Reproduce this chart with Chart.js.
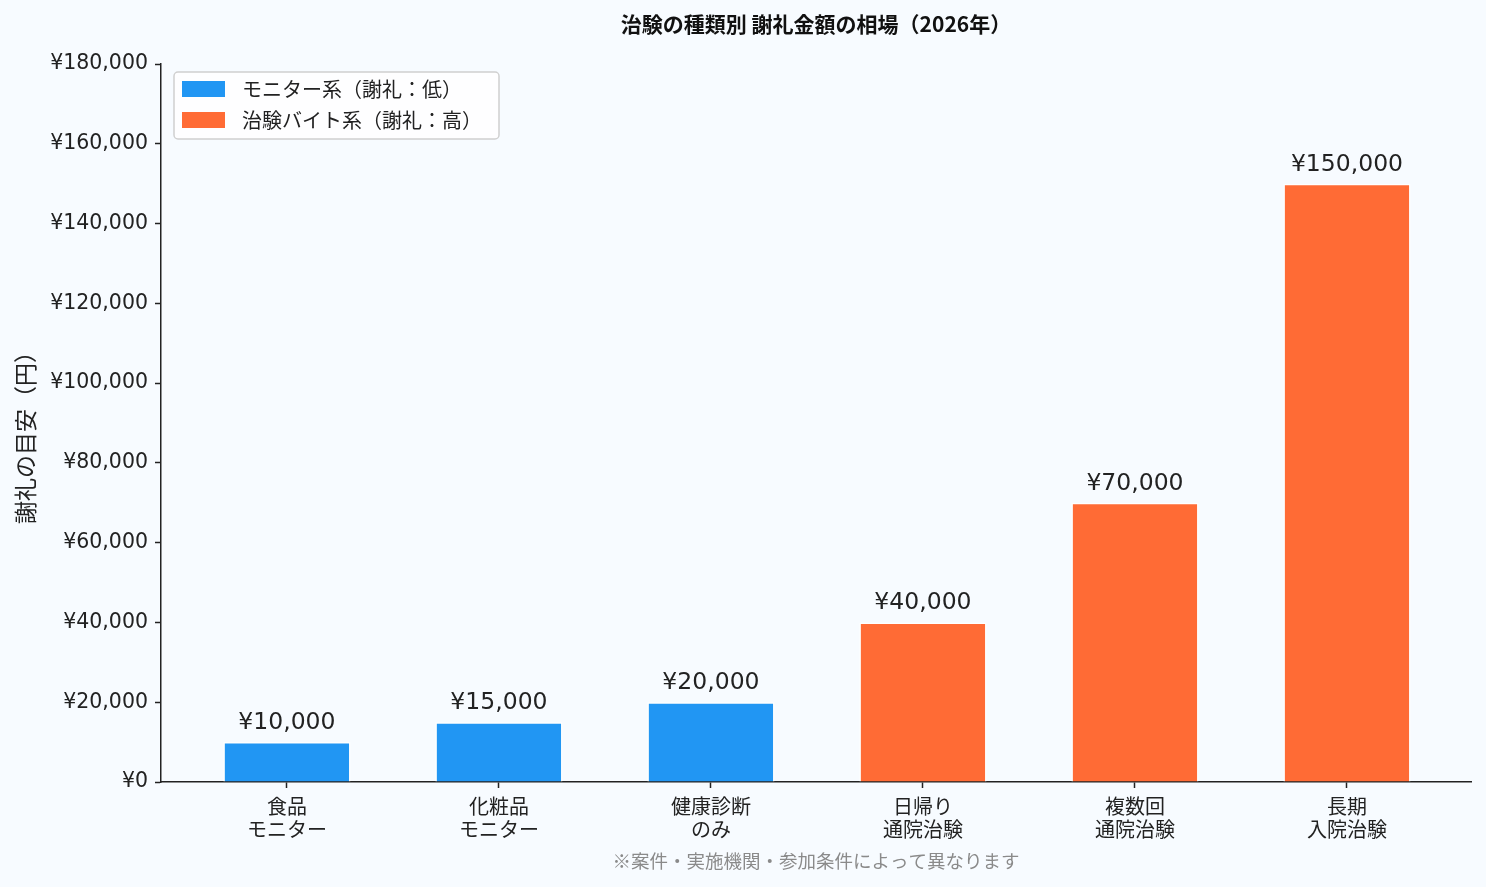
<!DOCTYPE html>
<html lang="ja">
<head>
<meta charset="utf-8">
<script src="https://cdn.jsdelivr.net/npm/chart.js@4.4.1/dist/chart.umd.min.js"></script>
<style>
  html, body { margin: 0; padding: 0; background: #f7fbff; }
  #wrap { width: 1486px; height: 887px; }
</style>
</head>
<body>
<div id="wrap"><canvas id="rewardChart"></canvas></div>
<script>
// data
const categories = [
    ['食品', 'モニター'],
    ['化粧品', 'モニター'],
    ['健康診断', 'のみ'],
    ['日帰り', '通院治験'],
    ['複数回', '通院治験'],
    ['長期', '入院治験']
];
const monitorIdx = [0, 1, 2];
const monitorValues = [10000, 15000, 20000];
const trialIdx = [3, 4, 5];
const trialValues = [40000, 70000, 150000];
const yTicks = [0, 20000, 40000, 60000, 80000, 100000, 120000, 140000, 160000, 180000];

const FONT = '"Noto Sans CJK JP", "Noto Sans", sans-serif';
const NUMFONT = '"DejaVu Sans", "Noto Sans CJK JP", sans-serif';
const yen = v => '¥' + v.toLocaleString('en-US');

// draws title, axis titles, value labels and the in-plot legend
const extras = {
    id: 'extras',
    afterDraw(chart) {
        const { ctx, chartArea: a } = chart;
        ctx.save();
        ctx.fillStyle = '#111';
        ctx.textAlign = 'center';
        ctx.textBaseline = 'middle';
        ctx.font = 'bold 21px ' + FONT;
        ctx.fillText('治験の種類別 謝礼金額の相場（2026年）', (a.left + a.right) / 2, 24);

        // y title
        ctx.save();
        ctx.translate(25, (a.top + a.bottom) / 2 + 9);
        ctx.rotate(-Math.PI / 2);
        ctx.font = '23px ' + FONT;
        ctx.fillStyle = '#222';
        ctx.fillText('謝礼の目安（円）', 0, 0);
        ctx.restore();

        // footnote
        ctx.font = '18.5px ' + FONT;
        ctx.fillStyle = '#8a8a8a';
        ctx.fillText('※案件・実施機関・参加条件によって異なります', (a.left + a.right) / 2, 861);

        // value labels
        ctx.font = '23.5px ' + NUMFONT;
        ctx.fillStyle = '#222';
        ctx.textBaseline = 'alphabetic';
        chart.data.datasets.forEach((ds, di) => {
            chart.getDatasetMeta(di).data.forEach((bar, i) => {
                ctx.fillText(yen(ds.data[i].y), bar.x, bar.y - 13);
            });
        });

        // legend
        const lx = 174, ly = 72, lw = 325, lh = 67;
        ctx.beginPath();
        ctx.roundRect(lx, ly, lw, lh, 4);
        ctx.fillStyle = 'rgba(255,255,255,0.8)';
        ctx.fill();
        ctx.strokeStyle = '#d0d0d0';
        ctx.lineWidth = 1.5;
        ctx.stroke();
        ctx.textAlign = 'left';
        ctx.textBaseline = 'middle';
        ctx.font = '20px ' + FONT;
        chart.data.datasets.forEach((ds, di) => {
            const cy = 89 + di * 31;
            ctx.fillStyle = ds.backgroundColor;
            ctx.fillRect(182, cy - 8, 43, 16);
            ctx.fillStyle = '#222';
            ctx.fillText(ds.label, 242, cy);
        });
        ctx.restore();
    }
};

const bgPlugin = {
    id: 'bg',
    beforeDraw(chart) {
        const ctx = chart.ctx;
        ctx.save();
        ctx.fillStyle = '#f7fbff';
        ctx.fillRect(0, 0, chart.width, chart.height);
        ctx.restore();
    }
};

new Chart(document.getElementById('rewardChart'), {
    type: 'bar',
    data: {
        datasets: [
            {
                label: 'モニター系（謝礼：低）',
                data: monitorIdx.map((x, i) => ({ x: x, y: monitorValues[i] })),
                backgroundColor: '#2196f3',
                borderColor: '#ffffff',
                borderWidth: 1.5,
                grouped: false,
                barPercentage: 0.6,
                categoryPercentage: 1
            },
            {
                label: '治験バイト系（謝礼：高）',
                data: trialIdx.map((x, i) => ({ x: x, y: trialValues[i] })),
                backgroundColor: '#ff6b35',
                borderColor: '#ffffff',
                borderWidth: 1.5,
                grouped: false,
                barPercentage: 0.6,
                categoryPercentage: 1
            }
        ]
    },
    options: {
        responsive: true,
        maintainAspectRatio: false,
        animation: false,
        layout: { padding: { top: 64, right: 15, left: 0, bottom: 0 } },
        scales: {
            x: {
                type: 'linear',
                offset: false,
                min: -0.594,
                max: 5.585,
                afterBuildTicks: scale => { scale.ticks = categories.map((_, i) => ({ value: i })); },
                afterFit: scale => { scale.height = 105; },
                grid: { offset: false, drawOnChartArea: false, drawTicks: true, tickLength: 6, tickColor: '#222', tickWidth: 1.5 },
                border: { color: '#222', width: 1.5 },
                ticks: {
                    autoSkip: false,
                    maxRotation: 0,
                    padding: 7,
                    color: '#222',
                    font: { family: FONT, size: 20, lineHeight: 1.15 },
                    callback: v => categories[v]
                }
            },
            y: {
                min: 0,
                max: 180000,
                afterBuildTicks: scale => { scale.ticks = yTicks.map(v => ({ value: v })); },
                afterFit: scale => { scale.width = 161; },
                grid: { drawOnChartArea: false, drawTicks: true, tickLength: 6, tickColor: '#222', tickWidth: 1.5 },
                border: { color: '#222', width: 1.5 },
                ticks: {
                    padding: 7,
                    color: '#222',
                    font: { family: NUMFONT, size: 20.5 },
                    callback: v => yen(v)
                }
            }
        },
        plugins: {
            legend: { display: false },
            title: { display: false },
            tooltip: { enabled: false }
        }
    },
    plugins: [bgPlugin, extras]
});
</script>
</body>
</html>
